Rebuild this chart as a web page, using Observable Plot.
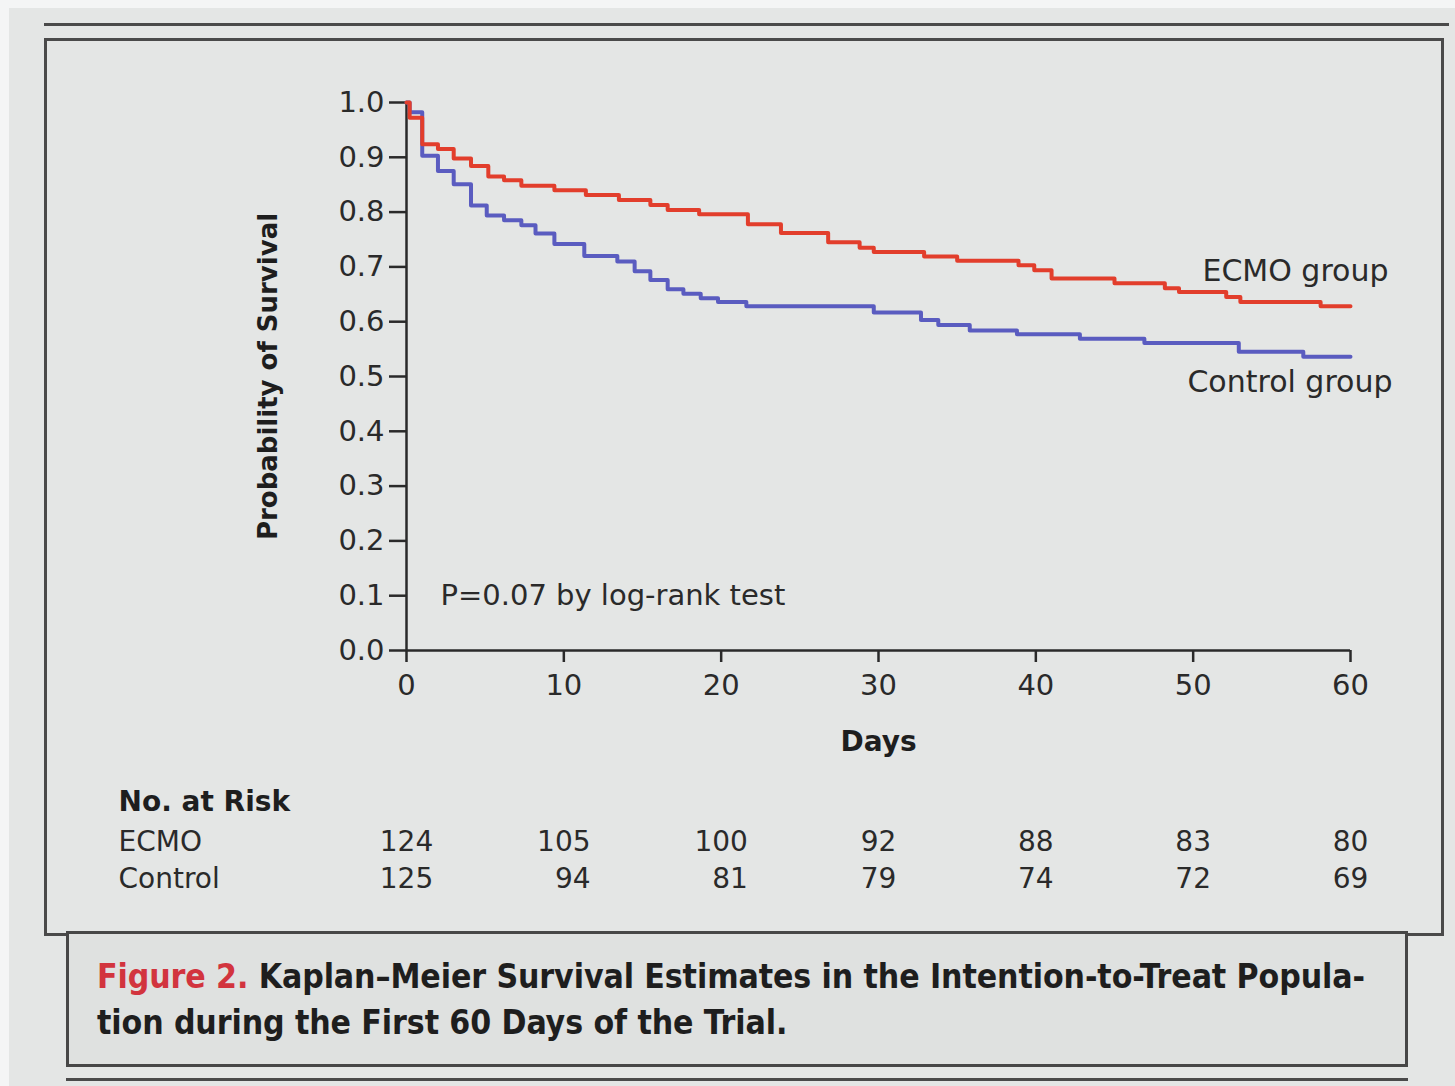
<!DOCTYPE html>
<html>
<head>
<meta charset="utf-8">
<script src="https://cdn.jsdelivr.net/npm/d3@7"></script>
<script src="https://cdn.jsdelivr.net/npm/@observablehq/plot@0.6"></script>
<style>
  html, body { margin: 0; padding: 0; background: #e4e6e5; }
  #page { position: relative; width: 1455px; height: 1086px; overflow: hidden; background: #e4e6e5; font-family: "DejaVu Sans", sans-serif; }
  #chart { position: absolute; left: 0; top: 0; }
  .line { position: absolute; background: #4a4a4a; }
  #caption { position: absolute; left: 66px; top: 931px; width: 1342px; height: 136px; border: 3px solid #474747; background: #dfe1e0; box-sizing: border-box; }
  #caption p { margin: 0; position: absolute; left: 28px; font-family: "DejaVu Sans Condensed", "DejaVu Sans", sans-serif; font-weight: bold; font-size: 33.5px; line-height: 40px; color: #1e1e1e; white-space: nowrap; letter-spacing: -0.1px; }
  #caption .fig { color: #d2343e; }
</style>
</head>
<body>
<div id="page">
  <div class="line" style="left:0;top:0;width:1455px;height:8px;background:#f4f5f5"></div>
  <div class="line" style="left:0;top:0;width:9px;height:1086px;background:#f4f5f5"></div>
  <div class="line" style="left:44px;top:23px;width:1405px;height:3px;"></div>
  <div id="box" style="position:absolute;left:44px;top:38px;width:1400px;height:898px;border:3px solid #4a4a4a;box-sizing:border-box;"></div>
  <div id="chart"></div>
  <div id="caption">
    <p style="top:23px"><span class="fig">Figure 2.</span> Kaplan–Meier Survival Estimates in the Intention-to-Treat Popula-</p>
    <p style="top:69px">tion during the First 60 Days of the Trial.</p>
  </div>
  <div class="line" style="left:66px;top:1078px;width:1342px;height:3px;"></div>
</div>
<script>
// ---- Data ----
const ecmoDays = [0, 0.2, 1.0, 2.0, 3.0, 4.1, 5.2, 6.2, 7.3, 9.4, 11.4, 13.5, 15.5, 16.6, 18.6, 21.7, 23.8, 26.8, 28.8, 29.7, 32.9, 35.0, 38.9, 39.9, 41.0, 45.0, 48.2, 49.1, 52.1, 53.0, 58.1, 60];
const ecmoSurv = [1.0, 0.972, 0.924, 0.915, 0.898, 0.884, 0.865, 0.858, 0.848, 0.840, 0.831, 0.822, 0.813, 0.804, 0.796, 0.778, 0.762, 0.745, 0.735, 0.727, 0.719, 0.711, 0.703, 0.694, 0.679, 0.670, 0.661, 0.654, 0.645, 0.636, 0.628, 0.628];

const ctrlDays = [0, 0.2, 1.0, 2.0, 3.0, 4.1, 5.1, 6.2, 7.3, 8.2, 9.4, 11.3, 13.4, 14.5, 15.5, 16.6, 17.6, 18.7, 19.8, 21.6, 29.7, 32.7, 33.8, 35.8, 38.8, 42.8, 46.9, 52.9, 57.0, 60];
const ctrlSurv = [1.0, 0.982, 0.903, 0.875, 0.851, 0.812, 0.794, 0.785, 0.776, 0.761, 0.742, 0.720, 0.710, 0.692, 0.676, 0.659, 0.651, 0.643, 0.636, 0.628, 0.617, 0.603, 0.594, 0.584, 0.577, 0.569, 0.561, 0.545, 0.536, 0.536];

const riskDays = [0, 10, 20, 30, 40, 50, 60];
const riskEcmo = [124, 105, 100, 92, 88, 83, 80];
const riskCtrl = [125, 94, 81, 79, 74, 72, 69];

const xTicks = [0, 10, 20, 30, 40, 50, 60];
const yTicks = [0, 0.1, 0.2, 0.3, 0.4, 0.5, 0.6, 0.7, 0.8, 0.9, 1.0];

const groupNames = ["ECMO group", "Control group"];
const riskLabels = ["ECMO", "Control"];
const pText = "P=0.07 by log-rank test";

// ---- Tables ----
const ecmo = ecmoDays.map((d, i) => ({day: d, surv: ecmoSurv[i]}));
const ctrl = ctrlDays.map((d, i) => ({day: d, surv: ctrlSurv[i]}));
const FS = "\u2007";
const pad = (s, n) => FS.repeat(Math.max(0, n - s.length)) + s;
const risk = riskDays.map((d, i) => {
  const a = String(riskEcmo[i]), b = String(riskCtrl[i]);
  const n = Math.max(a.length, b.length);
  return {day: d, ecmo: pad(a, n), ctrl: pad(b, n)};
});

const RED = "#e23e2c";
const BLUE = "#5a5cc0";
const INK = "#2a2a2a";

const chart = Plot.plot({
  width: 1455,
  height: 920,
  marginLeft: 406,
  marginRight: 105,
  marginTop: 102,
  marginBottom: 270,
  x: {domain: [0, 60]},
  y: {domain: [0, 1]},
  style: {background: "transparent", fontFamily: "DejaVu Sans, sans-serif", fontSize: "29px", color: INK, overflow: "visible"},
  marks: [
    Plot.axisY(yTicks, {tickSize: 17, tickPadding: 5, tickFormat: d => d.toFixed(1), fontSize: 29, strokeWidth: 2.5, stroke: INK, fill: INK, label: null}),
    Plot.axisX(xTicks, {tickSize: 12, tickPadding: 12, fontSize: 29, strokeWidth: 2.5, stroke: INK, fill: INK, label: null}),
    Plot.ruleX([0], {y1: 0, y2: 1, stroke: INK, strokeWidth: 2.5}),
    Plot.ruleY([0], {x1: 0, x2: 60, stroke: INK, strokeWidth: 2.5}),
    Plot.line(ctrl, {x: "day", y: "surv", curve: "step-after", stroke: BLUE, strokeWidth: 4}),
    Plot.line(ecmo, {x: "day", y: "surv", curve: "step-after", stroke: RED, strokeWidth: 4}),
    // group labels near curve ends
    Plot.text([ecmo[ecmo.length - 1]], {x: "day", y: "surv", text: () => groupNames[0], textAnchor: "end", dx: 38, dy: -35, fontSize: 30, fill: INK}),
    Plot.text([ctrl[ctrl.length - 1]], {x: "day", y: "surv", text: () => groupNames[1], textAnchor: "end", dx: 42, dy: 26, fontSize: 30, fill: INK}),
    // p-value
    Plot.text([pText], {frameAnchor: "bottom-left", dx: 34, dy: -46, textAnchor: "start", fontSize: 29, fill: INK}),
    // axis titles
    Plot.text(["Probability of Survival"], {frameAnchor: "left", dx: -138, rotate: -90, textAnchor: "middle", fontSize: 26, fontWeight: "bold", fill: "#1e1e1e"}),
    Plot.text(["Days"], {frameAnchor: "bottom", dx: 0, dy: 100, textAnchor: "middle", fontSize: 28, fontWeight: "bold", fill: "#1e1e1e"}),
    // number at risk
    Plot.text(["No. at Risk"], {frameAnchor: "bottom-left", dx: -288, dy: 160, textAnchor: "start", fontSize: 28, fontWeight: "bold", fill: "#1e1e1e"}),
    Plot.text([riskLabels[0]], {frameAnchor: "bottom-left", dx: -288, dy: 200, textAnchor: "start", fontSize: 28, fill: INK}),
    Plot.text([riskLabels[1]], {frameAnchor: "bottom-left", dx: -288, dy: 237, textAnchor: "start", fontSize: 28, fill: INK}),
    Plot.text(risk, {x: "day", text: "ecmo", frameAnchor: "bottom", dy: 200, textAnchor: "middle", fontSize: 28, fill: INK}),
    Plot.text(risk, {x: "day", text: "ctrl", frameAnchor: "bottom", dy: 237, textAnchor: "middle", fontSize: 28, fill: INK})
  ]
});
document.getElementById("chart").appendChild(chart);
</script>
</body>
</html>
